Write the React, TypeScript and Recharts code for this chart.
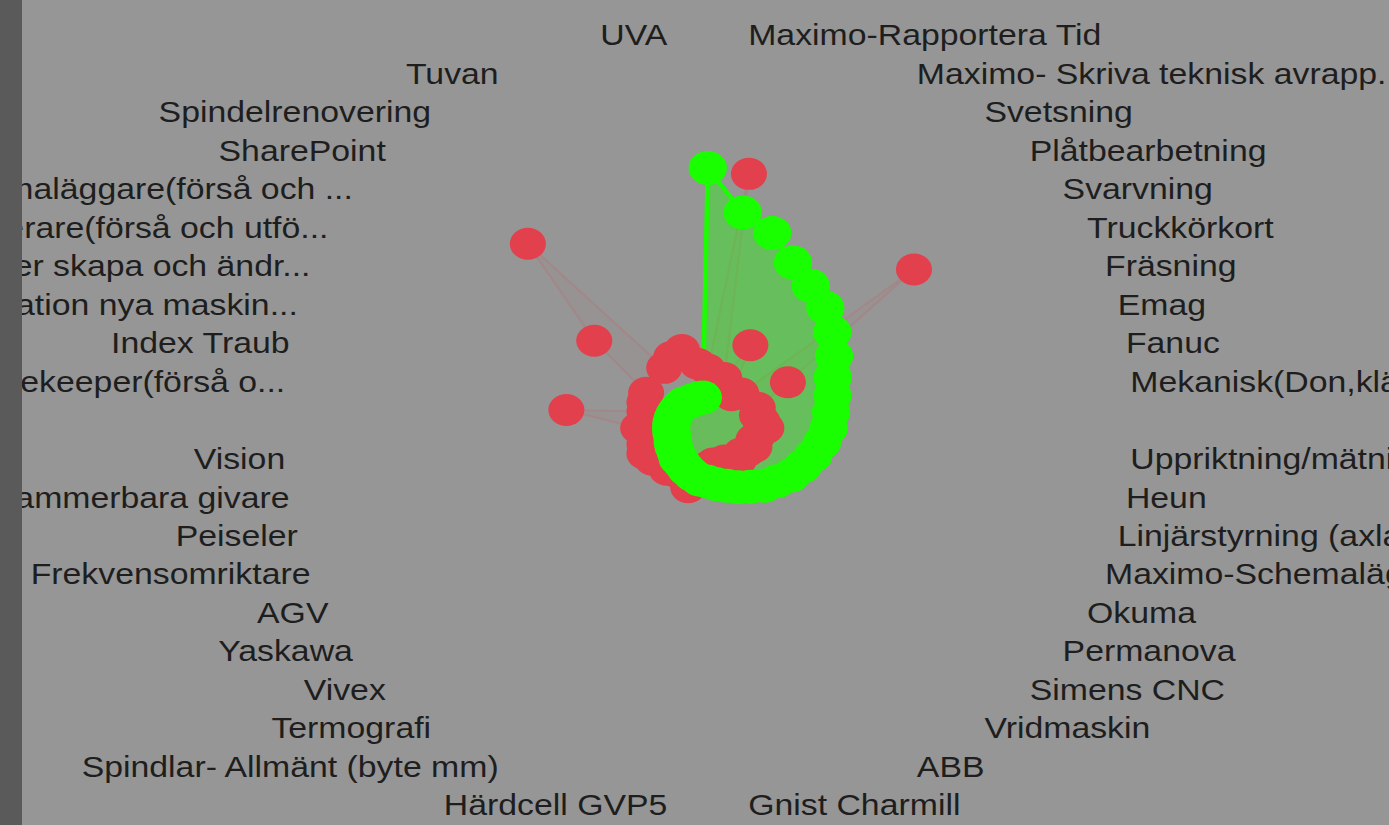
import React from 'react';
import { RadarChart, Radar, PolarAngleAxis, PolarRadiusAxis } from 'recharts';

// category labels, clockwise from the top (four slots have no label)
const categories = [
  '', 'Maximo-Rapportera Tid', 'Maximo- Skriva teknisk avrapp...', 'Svetsning', 'Plåtbearbetning',
  'Svarvning', 'Truckkörkort', 'Fräsning', 'Emag', 'Fanuc', 'Mekanisk(Don,klämmor...',
  '', 'Uppriktning/mätning', 'Heun', 'Linjärstyrning (axlar)', 'Maximo-Schemaläggning',
  'Okuma', 'Permanova', 'Simens CNC', 'Vridmaskin', 'ABB', 'Gnist Charmill',
  '', 'Härdcell GVP5', 'Spindlar- Allmänt (byte mm)', 'Termografi', 'Vivex', 'Yaskawa',
  'AGV', 'Frekvensomriktare', 'Peiseler', 'Programmerbara givare', 'Vision',
  '', 'Maximo-Storekeeper(förså o...', 'Index Traub', 'Installation nya maskin...',
  'Maximo- Arbetsorder skapa och ändr...', 'Maximo-Planerare(förså och utfö...',
  'Maximo-Schemaläggare(förså och ...', 'SharePoint', 'Spindelrenovering', 'Tuvan', 'UVA',
];

const greenValues = [
  8.0, 6.7, 6.25, 5.6, 5.2, 4.9, 4.5, 4.1, 3.75, 3.55,
  3.4, 3.3, 3.15, 3.0, 2.85, 2.7, 2.5, 2.35, 2.15, 2.0,
  1.85, 1.75, 1.65, 1.6, 1.5, 1.4, 1.3, 1.25, 1.15, 1.1,
  1.05, 1.0, 1.0, 1.0, 1.0, 1.0, 1.0, 1.0, 1.0, 1.0,
  0.95, 0.95, 0.95, 0.95,
];

const redValues = [
  1.8, 7.9, 1.6, 2.8, 1.2, 1.4, 7.45, 2.6, 1.5, 1.4,
  1.5, 1.6, 1.4, 1.3, 1.4, 1.3, 1.2, 1.3, 1.2, 1.1,
  1.2, 1.1, 1.2, 1.3, 1.9, 1.5, 1.6, 1.7, 1.6, 1.8,
  1.9, 1.8, 1.7, 1.9, 3.9, 1.8, 1.9, 2.0, 4.1, 7.5,
  2.2, 2.4, 2.5, 2.0,
];

const N = categories.length;
const data = categories.map((name, i) => ({
  key: `c${i}`,
  name,
  red: redValues[i],
  green: greenValues[i],
}));

// the screenshot is stretched sideways, so the chart is drawn narrower and scaled
const STRETCH = 1.127;
const CHART_W = 1233;
const CHART_H = 825;
const CX = 628;
const CY = 428;
const RADIUS = 325;

// label layout: evenly spaced rows around a rounded oval
const LABEL_CY = 420;
const LABEL_RY = 423.5;
const LABEL_RX = 376;
const LABEL_BY = 386;
const LABEL_P = 2.2;

const BG = '#969696';
const GREEN = '#1aff00';
const RED = '#e2404c';

const AngleTick = (props: any) => {
  const k = props.index ?? props.payload?.index ?? 0;
  const text = categories[k];
  if (!text) return <g />;
  const theta = (k * 360) / N;
  const right = theta < 180;
  const t = right ? theta : 360 - theta;
  const y = LABEL_CY - LABEL_RY + (t / 180) * 2 * LABEL_RY;
  const u = Math.min(1, Math.abs(y - LABEL_CY) / LABEL_BY);
  const off = LABEL_RX * Math.pow(Math.max(0, 1 - Math.pow(u, LABEL_P)), 1 / LABEL_P);
  const x = CX + (right ? off : -off);
  return (
    <text
      x={x}
      y={y}
      dy="0.35em"
      textAnchor={right ? 'start' : 'end'}
      fill="#1e1e1e"
      fontSize={30}
      fontFamily="'Liberation Sans', Arial, sans-serif"
    >
      {text}
    </text>
  );
};

export default function App() {
  return (
    <div style={{ position: 'fixed', left: 0, top: 0, width: 1389, height: 825, background: BG, overflow: 'hidden' }}>
      <div style={{ position: 'absolute', left: 0, top: 0, transform: `scaleX(${STRETCH})`, transformOrigin: '0 0' }}>
        <RadarChart
          width={CHART_W}
          height={CHART_H}
          data={data}
          cx={CX}
          cy={CY}
          outerRadius={RADIUS}
          margin={{ top: 0, right: 0, bottom: 0, left: 0 }}
        >
          <PolarAngleAxis dataKey="key" tick={AngleTick} axisLine={false} tickLine={false} />
          <PolarRadiusAxis domain={[0, 10]} tick={false} axisLine={false} />
          <Radar
            dataKey="red"
            stroke={RED}
            strokeOpacity={0.15}
            strokeWidth={2}
            fill={RED}
            fillOpacity={0.03}
            isAnimationActive={false}
            dot={(p: any) => <circle key={`r${p.index}`} cx={p.cx} cy={p.cy} r={16} fill={RED} />}
          />
          <Radar
            dataKey="green"
            stroke={GREEN}
            strokeWidth={4}
            fill={GREEN}
            fillOpacity={0.38}
            isAnimationActive={false}
            dot={(p: any) => <circle key={`g${p.index}`} cx={p.cx} cy={p.cy} r={17} fill={GREEN} />}
          />
        </RadarChart>
      </div>
      <div style={{ position: 'absolute', left: 0, top: 0, width: 22, height: 825, background: '#5a5a5a' }} />
    </div>
  );
}
